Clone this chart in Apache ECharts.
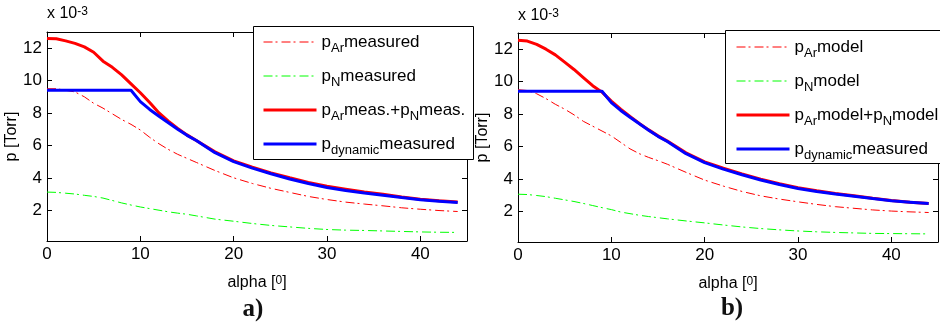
<!DOCTYPE html>
<html>
<head>
<meta charset="utf-8">
<script src="https://cdn.jsdelivr.net/npm/echarts@6/dist/echarts.min.js"></script>
<style>
  html, body { margin: 0; padding: 0; background: #fff; }
  #chart { width: 940px; height: 326px; }
</style>
</head>
<body>
<div id="chart"></div>
<script>
// alpha [deg] sample points, shared by all curves
const alpha = [0, 1, 2, 3, 4, 5, 6, 7, 8, 9, 10, 11, 12, 13, 14, 15, 16,
  18, 20, 22, 24, 26, 28, 30, 32, 34, 36, 38, 40, 42, 44]

// p [Torr] x 10^-3, panel a) measured
const pArMeas = [9.5, 9.5, 9.4, 9.3, 9.0, 8.6, 8.3, 7.95, 7.6, 7.3, 6.95, 6.5, 6.1, 5.75, 5.45, 5.2, 4.95,
  4.45, 4.0, 3.65, 3.35, 3.1, 2.85, 2.66, 2.5, 2.38, 2.27, 2.15, 2.06, 1.98, 1.92]
const pNMeas = [3.12, 3.1, 3.05, 3.0, 2.92, 2.85, 2.75, 2.6, 2.45, 2.32, 2.2, 2.1, 2.0, 1.9, 1.82, 1.75, 1.65,
  1.45, 1.32, 1.18, 1.06, 0.97, 0.88, 0.81, 0.77, 0.75, 0.72, 0.69, 0.66, 0.64, 0.63]
const pSumMeas = [12.6, 12.58, 12.45, 12.3, 12.08, 11.75, 11.2, 10.82, 10.35, 9.8, 9.25, 8.65, 8.0, 7.5, 7.05, 6.65, 6.3,
  5.6, 5.05, 4.65, 4.3, 4.0, 3.72, 3.48, 3.3, 3.12, 2.98, 2.82, 2.68, 2.58, 2.5]
const pDynamic = [9.4, 9.4, 9.4, 9.4, 9.4, 9.4, 9.4, 9.4, 9.4, 9.4, 8.7, 8.22, 7.8, 7.4, 7.0, 6.62, 6.3,
  5.55, 5.0, 4.6, 4.25, 3.93, 3.65, 3.4, 3.22, 3.06, 2.93, 2.78, 2.64, 2.56, 2.48]

// panel b) model
const pArModel = [9.5, 9.45, 9.25, 8.95, 8.6, 8.3, 7.95, 7.55, 7.25, 6.95, 6.65, 6.25, 5.85, 5.55, 5.32, 5.12, 4.9,
  4.4, 3.92, 3.55, 3.22, 2.95, 2.75, 2.58, 2.42, 2.28, 2.18, 2.08, 2.01, 1.96, 1.92]
const pNModel = [3.05, 3.03, 2.97, 2.9, 2.8, 2.7, 2.6, 2.48, 2.35, 2.22, 2.1, 1.95, 1.85, 1.75, 1.67, 1.6, 1.53,
  1.4, 1.28, 1.15, 1.03, 0.93, 0.85, 0.78, 0.73, 0.69, 0.66, 0.63, 0.62, 0.61, 0.6]
const pSumModel = [12.55, 12.5, 12.3, 12.0, 11.65, 11.2, 10.75, 10.25, 9.75, 9.35, 8.8, 8.3, 7.85, 7.42, 7.02, 6.65, 6.33,
  5.6, 5.05, 4.65, 4.3, 3.98, 3.7, 3.45, 3.26, 3.1, 2.96, 2.8, 2.66, 2.56, 2.47]

// legend labels (rich text: n normal, s subscript)
const legendA = {
  a1: '{n|p}{s|Ar}{n|measured}',
  a2: '{n|p}{s|N}{n|measured}',
  a3: '{n|p}{s|Ar}{n|meas.+p}{s|N}{n|meas.}',
  a4: '{n|p}{s|dynamic}{n|measured}'
}
const legendB = {
  b1: '{n|p}{s|Ar}{n|model}',
  b2: '{n|p}{s|N}{n|model}',
  b3: '{n|p}{s|Ar}{n|model+p}{s|N}{n|model}',
  b4: '{n|p}{s|dynamic}{n|measured}'
}
const legendColors = ['#ff0000', '#00ff00', '#ff0000', '#0000ff']

const FONT = 'Liberation Sans, Arial, sans-serif'
const dashDot = [9, 3, 2, 4]

let chart = echarts.init(document.getElementById('chart'), null, { renderer: 'canvas' })

function pairs(arr) {
  return alpha.map((a, i) => [a, arr[i]])
}

function mkSeries(name, arr, idx, color, width, type) {
  return {
    name: name,
    type: 'line',
    xAxisIndex: idx * 2,
    yAxisIndex: idx * 2,
    data: pairs(arr),
    symbol: 'none',
    showSymbol: false,
    animation: false,
    lineStyle: { color: color, width: width, type: type },
    itemStyle: { color: color },
    emphasis: { disabled: true }
  }
}

const richTxt = {
  n: { fontSize: 17, lineHeight: 25, verticalAlign: 'middle', color: '#000', fontFamily: FONT },
  s: { fontSize: 13, lineHeight: 3, verticalAlign: 'bottom', color: '#000', fontFamily: FONT }
}

function mkLegend(map, left, top) {
  let keys = Object.keys(map)
  return {
    orient: 'vertical',
    left: left,
    top: top,
    padding: 0,
    itemGap: 13,
    itemWidth: 53,
    itemHeight: 14,
    selectedMode: false,
    z: 10,
    itemStyle: { opacity: 0 },
    data: keys.map((k, i) => ({
      name: k,
      lineStyle: { width: i < 2 ? 1 : 3, color: legendColors[i], type: i < 2 ? dashDot : 'solid', opacity: 1 }
    })),
    formatter: name => map[name],
    textStyle: { color: '#000', fontFamily: FONT, fontSize: 17, rich: richTxt }
  }
}

function xAx(grid, pos) {
  let bottom = pos === 'bottom'
  return {
    type: 'value', gridIndex: grid, position: pos,
    min: 0, max: 45, interval: 10,
    axisLine: { show: true, onZero: false, lineStyle: { color: '#000', width: 1 } },
    axisTick: { show: true, inside: true, length: 5, lineStyle: { color: '#000' } },
    axisLabel: { show: bottom, color: '#000', fontSize: 17, fontFamily: FONT, margin: 5, showMaxLabel: false },
    splitLine: { show: false },
    name: bottom ? '{n|alpha [}{p|0}{n|]}' : '',
    nameLocation: 'middle',
    nameGap: 27,
    nameTextStyle: {
      rich: {
        n: { fontSize: 16, lineHeight: 16, padding: [7, 0, 0, 0], verticalAlign: 'bottom', color: '#000', fontFamily: FONT },
        p: { fontSize: 12, lineHeight: 12, verticalAlign: 'top', color: '#000', fontFamily: FONT }
      }
    }
  }
}

function yAx(grid, pos) {
  let left = pos === 'left'
  return {
    type: 'value', gridIndex: grid, position: pos,
    min: 0.1, max: 13, splitNumber: 6, minInterval: 2, maxInterval: 2,
    axisLine: { show: true, onZero: false, lineStyle: { color: '#000', width: 1 } },
    axisTick: { show: true, inside: true, length: 5, lineStyle: { color: '#000' } },
    axisLabel: { show: left, color: '#000', fontSize: 17, fontFamily: FONT, margin: 5, showMinLabel: false, showMaxLabel: false },
    splitLine: { show: false },
    name: left ? 'p [Torr]' : '',
    nameLocation: 'middle',
    nameGap: 22,
    nameTextStyle: { color: '#000', fontSize: 16, fontFamily: FONT }
  }
}

function expText(x, y) {
  return {
    type: 'text', x: x, y: y, z: 10,
    style: {
      text: '{n|x 10}{p|-3}',
      verticalAlign: 'middle',
      rich: {
        n: { fontSize: 16, lineHeight: 16, padding: [8, 0, 0, 0], verticalAlign: 'bottom', fill: '#000', fontFamily: FONT },
        p: { fontSize: 12, lineHeight: 12, verticalAlign: 'top', fill: '#000', fontFamily: FONT }
      }
    }
  }
}

let option = {
  backgroundColor: '#fff',
  animation: false,
  grid: [
    { left: 47, top: 32, width: 420, height: 209, show: false, outerBoundsMode: 'none' },
    { left: 518, top: 33, width: 420, height: 209, show: false, outerBoundsMode: 'none' }
  ],
  xAxis: [xAx(0, 'bottom'), xAx(0, 'top'), xAx(1, 'bottom'), xAx(1, 'top')],
  yAxis: [yAx(0, 'left'), yAx(0, 'right'), yAx(1, 'left'), yAx(1, 'right')],
  legend: [mkLegend(legendA, 262, 33.5), mkLegend(legendB, 735, 38.5)],
  series: [
    mkSeries('a1', pArMeas, 0, '#ff0000', 1, dashDot),
    mkSeries('a2', pNMeas, 0, '#00ff00', 1, dashDot),
    mkSeries('a3', pSumMeas, 0, '#ff0000', 3, 'solid'),
    mkSeries('a4', pDynamic, 0, '#0000ff', 3, 'solid'),
    mkSeries('b1', pArModel, 1, '#ff0000', 1, dashDot),
    mkSeries('b2', pNModel, 1, '#00ff00', 1, dashDot),
    mkSeries('b3', pSumModel, 1, '#ff0000', 3, 'solid'),
    mkSeries('b4', pDynamic, 1, '#0000ff', 3, 'solid')
  ],
  graphic: [
    // legend boxes
    { type: 'rect', z: 5, shape: { x: 253.5, y: 26.5, width: 220, height: 133 },
      style: { fill: '#fff', stroke: '#000', lineWidth: 1 } },
    { type: 'rect', z: 5, shape: { x: 725.5, y: 30.5, width: 220, height: 133 },
      style: { fill: '#fff', stroke: '#000', lineWidth: 1 } },
    expText(47, 14),
    expText(518, 15.5),
    { type: 'text', x: 253, y: 310, z: 10,
      style: { text: 'a)', fill: '#111', font: 'bold 25px Liberation Serif, Times New Roman, serif', align: 'center', verticalAlign: 'middle' } },
    { type: 'text', x: 732, y: 309, z: 10,
      style: { text: 'b)', fill: '#111', font: 'bold 25px Liberation Serif, Times New Roman, serif', align: 'center', verticalAlign: 'middle' } }
  ]
}

chart.setOption(option)
</script>
</body>
</html>
